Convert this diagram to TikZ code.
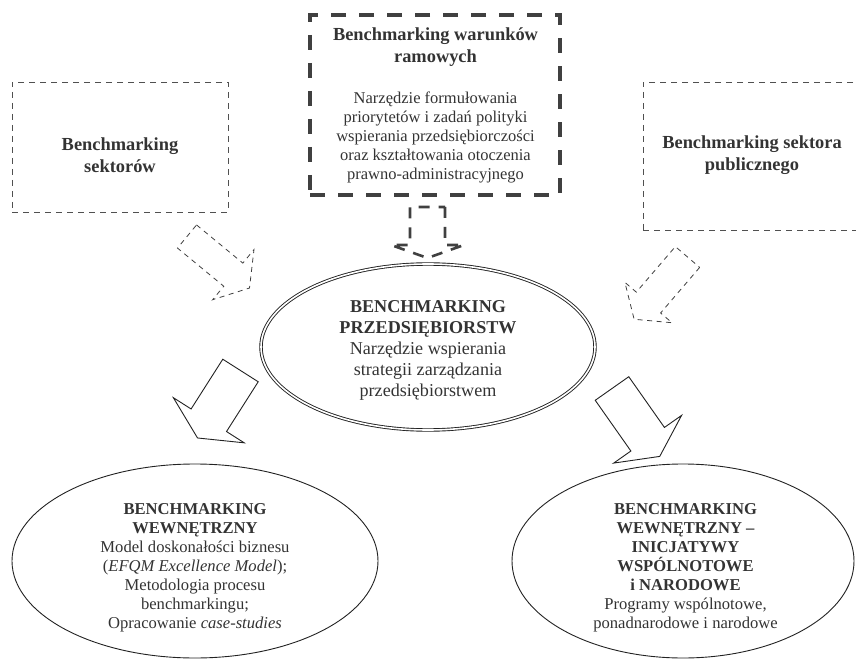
\documentclass[tikz,border=0pt]{standalone}
\usepackage{fontspec}
\setmainfont{Liberation Serif}
\usetikzlibrary{shapes.geometric}

\definecolor{ink}{HTML}{333333}
\definecolor{heavy}{HTML}{404040}
\definecolor{boxgray}{HTML}{505050}
\definecolor{linecol}{HTML}{222222}

% font presets (size / leading in pt)
\newcommand\hdfont{\fontsize{18.4}{22}\selectfont\bfseries}
\newcommand\bdfont{\fontsize{16.5}{19}\selectfont}
\newcommand\ovfont{\fontsize{16.6}{19}\selectfont}
\newcommand\ctfont{\fontsize{18.1}{21}\selectfont}

% block arrow: #1,#2 = middle of the back edge, #3 = direction (deg),
% #4 = shaft length, #5 = shaft width, #6 = head width, #7 = head length, #8 = style
\newcommand\blockarrow[8]{%
  \begin{scope}[shift={(#1,#2)}, rotate=#3]
    \draw[#8] (0,-#5/2) -- (#4,-#5/2) -- (#4,-#6/2) -- ({#4+#7},0)
      -- (#4,#6/2) -- (#4,#5/2) -- (0,#5/2) -- cycle;
  \end{scope}}

\begin{document}
\begin{tikzpicture}[x=1pt,y=-1pt,
  txt/.style={text=ink, align=center, inner sep=0pt},
  thinbox/.style={draw=boxgray, line width=0.9pt, dash pattern=on 6pt off 5pt, inner sep=0pt},
  thickbox/.style={draw=heavy, line width=3.2pt, dash pattern=on 15pt off 13pt, inner sep=0pt},
  oval/.style={ellipse, draw=linecol, line width=0.9pt, inner sep=0pt},
  dbloval/.style={ellipse, draw=linecol, double, line width=0.9pt, double distance=1.6pt, inner sep=0pt},
  thinarrow/.style={draw=heavy, line width=0.8pt, dash pattern=on 5pt off 4.5pt, line join=miter},
  heavyarrow/.style={draw=heavy, line width=2.6pt, dash pattern=on 11pt off 9pt},
  solidarrow/.style={draw=linecol, line width=0.9pt, line join=miter}]

\useasboundingbox (0,0) rectangle (856,660);
\clip (0,0) rectangle (856,660);

% outer frames
\node[thinbox, minimum width=216pt, minimum height=130pt] (sekt) at (120,147) {};
\node[thickbox, minimum width=250pt, minimum height=180pt] (ramy) at (435,105) {};
\node[thinbox, minimum width=218pt, minimum height=148pt] (publ) at (752,156) {};

% ellipses
\node[dbloval, minimum width=334pt, minimum height=166pt] (firm) at (428,347) {};
\node[oval, minimum width=366pt, minimum height=194pt] (wewn) at (195,561) {};
\node[oval, minimum width=342pt, minimum height=194pt] (inic) at (683,561) {};

% labels
\node[txt, font=\hdfont] (sektT) at (120,155) {Benchmarking\\sektorów};
\node[txt, font=\hdfont] (ramyH) at (435.5,47) {Benchmarking warunków\\ramowych};
\node[txt, font=\bdfont] (ramyB) at (435.5,137) {Narzędzie formułowania\\priorytetów i zadań polityki\\wspierania przedsiębiorczości\\oraz kształtowania otoczenia\\prawno-administracyjnego};
\node[txt, font=\hdfont] (publT) at (752,155) {Benchmarking sektora\\publicznego};
\node[txt, font=\ctfont] (firmT) at (428,350.5) {\bfseries BENCHMARKING\\\bfseries PRZEDSIĘBIORSTW\\Narzędzie wspierania\\strategii zarządzania\\przedsiębiorstwem};
\node[txt, font=\ovfont] (wewnT) at (195,568) {\bfseries BENCHMARKING\\\bfseries WEWNĘTRZNY\\Model doskonałości biznesu\\(\textit{EFQM Excellence Model});\\Metodologia procesu\\benchmarkingu;\\Opracowanie \textit{case-studies}};
\node[txt, font=\ovfont] (inicT) at (685.5,568) {\bfseries BENCHMARKING\\\bfseries WEWNĘTRZNY –\\\bfseries INICJATYWY\\\bfseries WSPÓLNOTOWE\\\bfseries i NARODOWE\\Programy wspólnotowe,\\ponadnarodowe i narodowe};

% block arrows
\blockarrow{427.5}{207}{-90}{38}{35}{73}{13}{heavyarrow}
\blockarrow{187}{236.5}{-39.5}{60}{30}{65}{21}{thinarrow}
\blockarrow{687.5}{257}{-130.6}{60}{32}{62}{22}{thinarrow}
\blockarrow{240.5}{370.5}{-122.5}{59}{42}{84}{21}{solidarrow}
\blockarrow{612}{388.5}{-54.9}{62}{41}{83}{21}{solidarrow}

\end{tikzpicture}
\end{document}
